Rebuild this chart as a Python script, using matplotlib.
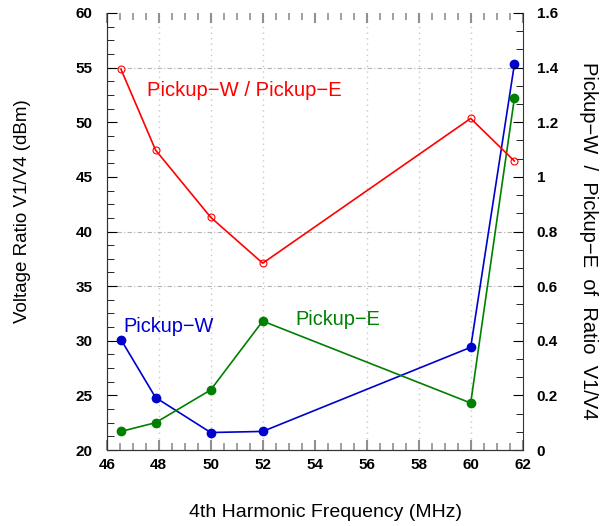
import matplotlib
matplotlib.use("Agg")
import matplotlib.pyplot as plt
from matplotlib.ticker import MultipleLocator, AutoMinorLocator, FuncFormatter

# data
freq = [46.55, 47.88, 50.0, 52.0, 60.0, 61.68]
pickup_w = [30.1, 24.8, 21.6, 21.7, 29.4, 55.3]
pickup_e = [21.7, 22.5, 25.5, 31.8, 24.3, 52.2]
ratio_we = [1.394, 1.098, 0.852, 0.684, 1.214, 1.058]

xgrid = [48, 50, 52, 56, 58, 60]
ygrid = [35, 40, 55]

RED = '#ff0000'
BLUE = '#0000cc'
GREEN = '#008000'

plt.rcParams['font.family'] = ['Liberation Sans', 'DejaVu Sans']

fig = plt.figure(figsize=(6.11, 5.26), dpi=100)
ax = fig.add_axes([106.7 / 611, 76 / 526, 416 / 611, 437 / 526])
ax2 = ax.twinx()

for x in xgrid:
    ax.axvline(x, color='#c8c8c8', linestyle=(0, (1, 3)), linewidth=1, zorder=0)
for y in ygrid:
    ax.axhline(y, color='#b4b4b4', linestyle=(0, (4, 2, 1, 2)), linewidth=0.8, zorder=0)

ax.plot(freq, pickup_w, '-o', color=BLUE, linewidth=1.2, markersize=6)
ax.plot(freq, pickup_e, '-o', color=GREEN, linewidth=1.2, markersize=6)
ax2.plot(freq, ratio_we, '-o', color=RED, linewidth=1.2, markersize=5,
         markerfacecolor='none', markeredgewidth=0.8)

ax.set_xlim(46, 62)
ax.set_ylim(20, 60)
ax2.set_ylim(0, 1.6)

ax.xaxis.set_major_locator(MultipleLocator(2))
ax.xaxis.set_minor_locator(MultipleLocator(0.5))
ax.yaxis.set_major_locator(MultipleLocator(5))
ax.yaxis.set_minor_locator(AutoMinorLocator(4))
ax2.yaxis.set_major_locator(MultipleLocator(0.2))
ax2.yaxis.set_minor_locator(AutoMinorLocator(3))
ax2.yaxis.set_major_formatter(FuncFormatter(lambda v, p: f"{v:g}"))

ax.tick_params(axis='x', which='both', direction='in', top=True, color='#909090',
               labelsize=11, pad=6)
ax.tick_params(axis='x', which='major', length=7, width=1.5)
ax.tick_params(axis='x', which='minor', length=5, width=1.2)
ax.tick_params(axis='y', which='both', direction='in', labelsize=11, pad=10)
ax.tick_params(axis='y', which='major', length=7)
ax.tick_params(axis='y', which='minor', length=5)
ax2.tick_params(axis='y', which='both', direction='in', labelsize=11, pad=10)
ax2.tick_params(axis='y', which='major', length=7)
ax2.tick_params(axis='y', which='minor', length=5)
for lbl in ax.get_xticklabels() + ax.get_yticklabels() + ax2.get_yticklabels():
    lbl.set_fontweight('bold')

for a in (ax, ax2):
    a.spines['top'].set_visible(False)
    for s in ('left', 'right', 'bottom'):
        a.spines[s].set_color('#333333')
ax.spines['right'].set_visible(False)

ax.set_xlabel('4th Harmonic Frequency (MHz)', fontsize=14, va='center')
ax.xaxis.set_label_coords(0.525, -0.143)
ax.set_ylabel('Voltage Ratio V1/V4 (dBm)', fontsize=13.5, va='center')
ax.yaxis.set_label_coords(-0.203, 0.547)
ax2.set_ylabel('Pickup\u2212W  /  Pickup\u2212E  of  Ratio  V1/V4', fontsize=14.5,
               rotation=-90, va='center')
ax2.yaxis.set_label_coords(1.157, 0.478)

ax.text(47.55, 52.9, 'Pickup\u2212W / Pickup\u2212E', color=RED, fontsize=14.6,
        va='center')
ax.text(46.65, 31.35, 'Pickup\u2212W', color=BLUE, fontsize=14.4, va='center')
ax.text(53.24, 31.9, 'Pickup\u2212E', color=GREEN, fontsize=14.4, va='center')

fig.savefig('out.png', dpi=100)
